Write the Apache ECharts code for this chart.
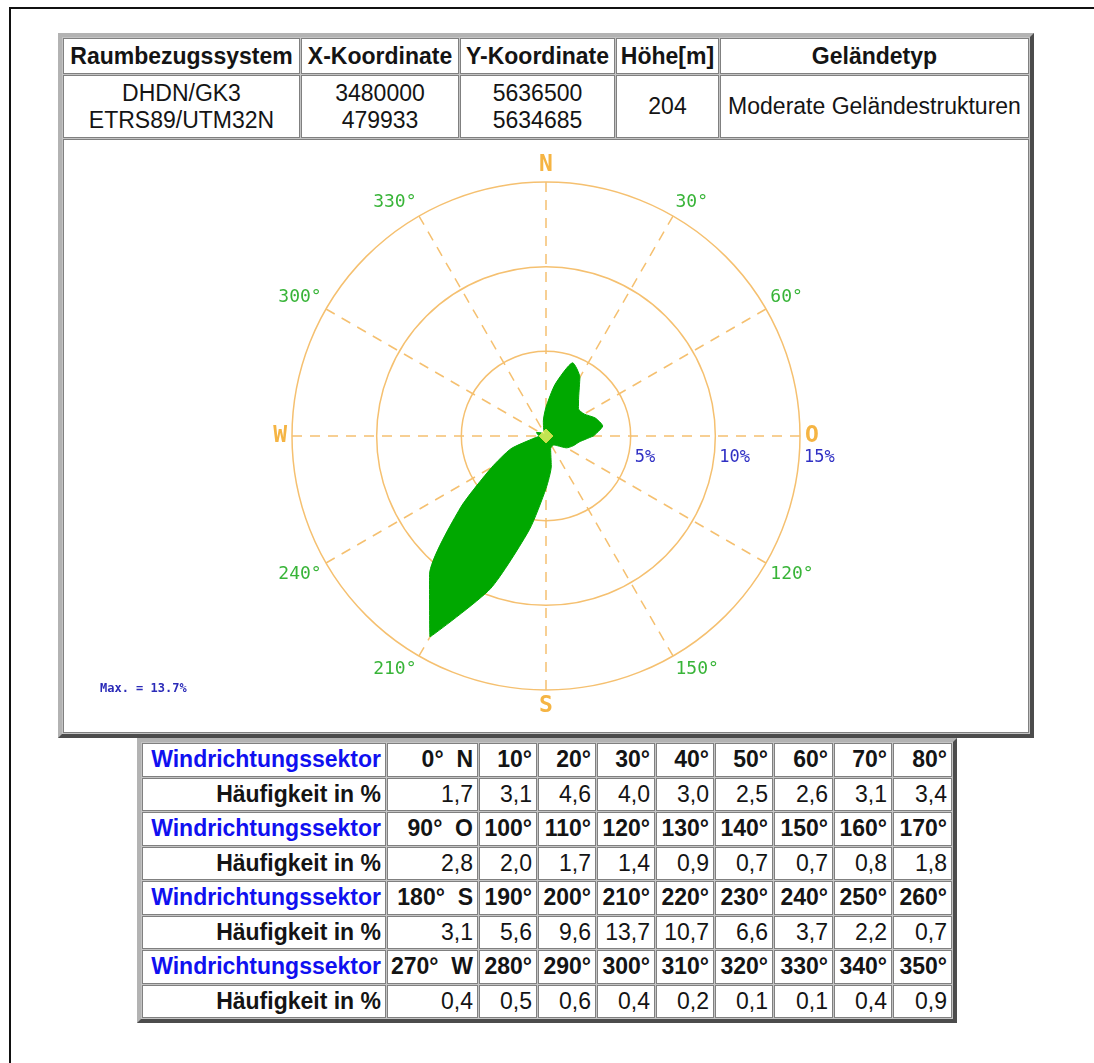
<!DOCTYPE html>
<html>
<head>
<meta charset="utf-8">
<script src="https://cdn.jsdelivr.net/npm/echarts@6/dist/echarts.min.js"></script>
<style>
html, body { margin: 0; padding: 0; background: #fff; width: 1094px; height: 1063px; overflow: hidden; }
.frame { position: absolute; left: 9px; top: 7px; width: 1200px; height: 1200px; border: 2px solid #111; }
table.box {
  position: absolute;
  border-collapse: separate;
  border-spacing: 1px;
  background: #c4c4c4;
  border: 4px solid;
  border-color: #b3b3b3 #4c4c4c #4c4c4c #b3b3b3;
  table-layout: fixed;
  font-family: "Liberation Sans", Arial, sans-serif;
  font-size: 23px;
  color: #141414;
}
table.box td {
  background: #fff;
  border: 1px solid #808080;
  box-sizing: border-box;
  padding: 0 3px;
  white-space: nowrap;
  overflow: hidden;
}
#head { left: 58px; top: 33px; width: 976px; }
#head td { text-align: center; line-height: 27px; }
#head tr.th td { font-weight: bold; height: 36px; }
#head tr.td td { height: 63px; }
#head td.chart { padding: 0; height: 594px; }
#rose { width: 964px; height: 592px; }
#sectors { left: 137px; top: 738px; width: 820px; }
#sectors td { text-align: right; height: 33.5px; padding: 0 4px 0 0; }
#sectors tr.dir td { font-weight: bold; }
#sectors tr.dir td.lab { color: #1010f0; }
#sectors tr.freq td.lab { font-weight: bold; }
</style>
</head>
<body>
<div class="frame"></div>
<table class="box" id="head">
  <colgroup><col style="width:237px"><col style="width:158px"><col style="width:155px"><col style="width:103px"><col style="width:309px"></colgroup>
  <tbody id="headBody"></tbody>
</table>
<table class="box" id="sectors">
  <colgroup>
    <col style="width:244px"><col style="width:91px">
    <col style="width:58px"><col style="width:58px"><col style="width:58px"><col style="width:58px">
    <col style="width:58px"><col style="width:59px"><col style="width:58px"><col style="width:59px">
  </colgroup>
  <tbody id="sectorBody"></tbody>
</table>
<script>
// site table
const headerLabels = ['Raumbezugssystem', 'X-Koordinate', 'Y-Koordinate', 'Höhe[m]', 'Geländetyp']
const systems = ['DHDN/GK3', 'ETRS89/UTM32N']
const xCoords = ['3480000', '479933']
const yCoords = ['5636500', '5634685']
const siteHeight = '204'
const terrain = 'Moderate Geländestrukturen'

// wind rose
const directions = [0, 10, 20, 30, 40, 50, 60, 70, 80,
  90, 100, 110, 120, 130, 140, 150, 160, 170,
  180, 190, 200, 210, 220, 230, 240, 250, 260,
  270, 280, 290, 300, 310, 320, 330, 340, 350]
const frequencies = [1.7, 3.1, 4.6, 4.0, 3.0, 2.5, 2.6, 3.1, 3.4,
  2.8, 2.0, 1.7, 1.4, 0.9, 0.7, 0.7, 0.8, 1.8,
  3.1, 5.6, 9.6, 13.7, 10.7, 6.6, 3.7, 2.2, 0.7,
  0.4, 0.5, 0.6, 0.4, 0.2, 0.1, 0.1, 0.4, 0.9]
const compassNames = { 0: 'N', 90: 'O', 180: 'S', 270: 'W' }
const rowLabels = ['Windrichtungssektor', 'Häufigkeit in %']

// ---- tables ----
const headBody = document.getElementById('headBody')
headBody.innerHTML =
  '<tr class="th">' + headerLabels.map(h => '<td>' + h + '</td>').join('') + '</tr>' +
  '<tr class="td"><td>' + systems.join('<br>') + '</td><td>' + xCoords.join('<br>') +
  '</td><td>' + yCoords.join('<br>') + '</td><td>' + siteHeight + '</td><td>' + terrain + '</td></tr>' +
  '<tr><td class="chart" colspan="5"><div id="rose"></div></td></tr>'

const sectorBody = document.getElementById('sectorBody')
let rows = ''
for (let start = 0; start < directions.length; start += 9) {
  const dirs = directions.slice(start, start + 9)
  const vals = frequencies.slice(start, start + 9)
  rows += '<tr class="dir"><td class="lab">' + rowLabels[0] + '</td>' + dirs.map(d =>
    '<td>' + d + '°' + (compassNames[d] ? '&nbsp;&nbsp;' + compassNames[d] : '') + '</td>').join('') + '</tr>'
  rows += '<tr class="freq"><td class="lab">' + rowLabels[1] + '</td>' + vals.map(v =>
    '<td>' + v.toFixed(1).replace('.', ',') + '</td>').join('') + '</tr>'
}
sectorBody.innerHTML = rows

// ---- chart ----
// angle axis starts at east (90°) and runs clockwise to 450°, so the radius labels sit on the east spoke
const rosePoints = directions
  .map((d, i) => [frequencies[i], d < 90 ? d + 360 : d])
  .sort((a, b) => a[1] - b[1])
rosePoints.push([rosePoints[0][0], rosePoints[0][1] + 360])

const gridColor = '#f5c070'
const mono = '"DejaVu Sans Mono", "Liberation Mono", monospace'

const chart = echarts.init(document.getElementById('rose'))
chart.setOption({
  animation: false,
  title: {
    text: 'Max. = ' + Math.max(...frequencies).toFixed(1) + '%',
    left: 36,
    top: 543,
    padding: 0,
    textStyle: { color: '#2b2bb8', fontSize: 12, fontWeight: 'bold', fontFamily: mono }
  },
  polar: { center: ['50%', '50%'], radius: 254 },
  angleAxis: {
    type: 'value',
    min: 90,
    max: 450,
    interval: 30,
    startAngle: 0,
    clockwise: true,
    axisLine: { show: false },
    axisTick: { show: false },
    splitLine: { show: true, lineStyle: { color: gridColor, width: 1.5, type: [10, 8] } },
    axisLabel: {
      margin: 5,
      formatter: v => {
        const d = v % 360
        return compassNames[d] ? '{c|' + compassNames[d] + '}' : '{g|' + d + '°}'
      },
      rich: {
        c: { color: '#f5b443', fontSize: 23, fontFamily: mono, fontWeight: 'bold' },
        g: { color: '#38b438', fontSize: 18, fontFamily: mono }
      }
    }
  },
  radiusAxis: {
    type: 'value',
    min: 0,
    max: 15,
    interval: 5,
    axisLine: { show: false },
    axisTick: { show: false },
    splitLine: { show: true, lineStyle: { color: gridColor, width: 1.5, type: 'solid' } },
    axisLabel: {
      formatter: v => (v ? v + '%' : ''),
      align: 'left',
      verticalAlign: 'top',
      margin: -13,
      padding: [0, 0, 0, 4],
      color: '#3030c4',
      fontSize: 17,
      fontFamily: mono
    }
  },
  series: [
    {
      type: 'line',
      coordinateSystem: 'polar',
      data: rosePoints,
      symbol: 'none',
      smooth: 0.2,
      silent: true,
      lineStyle: { color: '#00a800', width: 1 },
      areaStyle: { color: '#00a800', opacity: 1 },
      z: 3
    },
    {
      type: 'scatter',
      coordinateSystem: 'polar',
      data: [[0, 90]],
      symbol: 'diamond',
      symbolSize: 14,
      silent: true,
      itemStyle: { color: '#f2f266', borderColor: '#e2e04a', borderWidth: 1 },
      z: 4
    }
  ]
})
</script>
</body>
</html>
